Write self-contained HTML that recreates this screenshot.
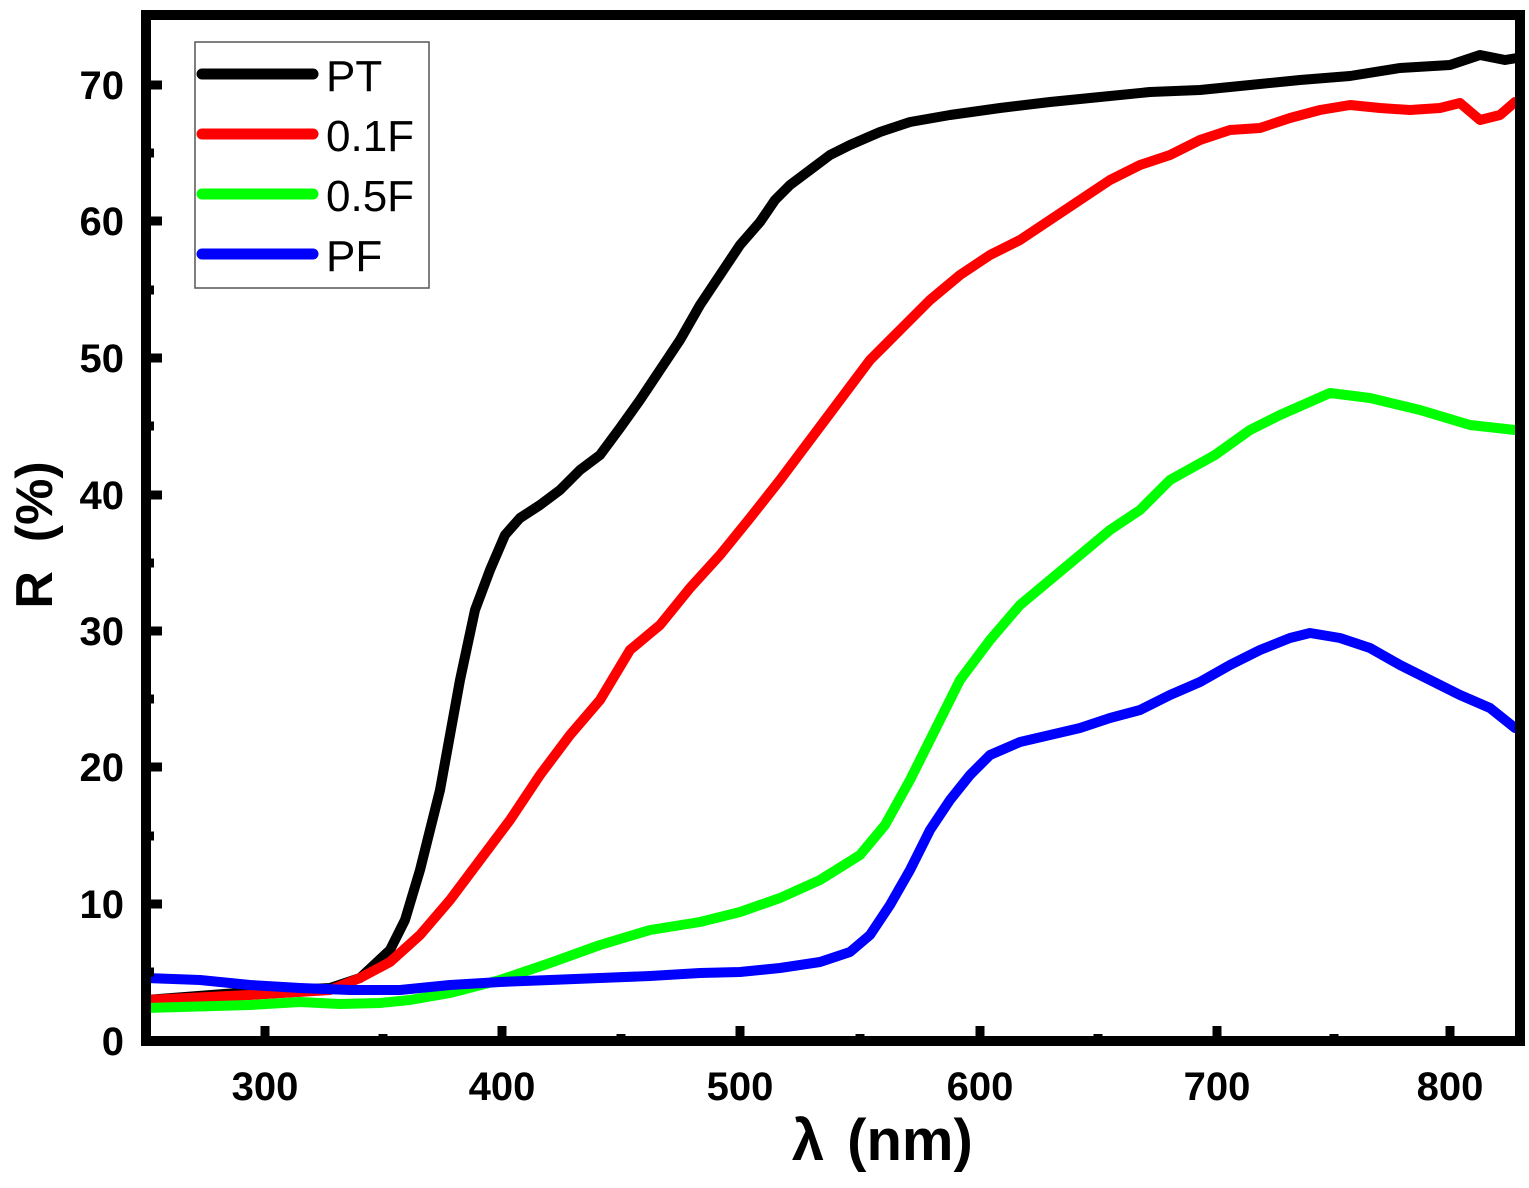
<!DOCTYPE html>
<html><head><style>body{margin:0;background:#fff}</style></head><body>
<svg width="1529" height="1183" viewBox="0 0 1529 1183" xmlns="http://www.w3.org/2000/svg" font-family="Liberation Sans, sans-serif">
<g fill="none" stroke-width="10" stroke-linejoin="round" stroke-linecap="round">
<polyline stroke="#000" points="146,1000 250,992 330,988 360,978 390,950 405,920 420,870 440,790 460,680 475,610 490,570 505,535 520,518 540,505 560,490 580,470 600,455 620,428 640,400 660,370 680,340 700,305 720,275 740,245 760,222 775,200 790,185 810,170 830,155 850,145 880,132 910,122 950,115 1000,108 1050,102 1100,97 1150,92 1200,90 1250,85 1300,80 1350,76 1400,68 1450,65 1480,55 1505,60 1517,58"/>
<polyline stroke="#f00" points="146,1000 250,995 330,990 360,978 390,962 420,935 450,900 480,860 510,820 540,775 570,735 600,700 630,650 660,625 690,588 720,555 750,518 780,480 810,440 840,400 870,360 900,330 930,300 960,275 990,255 1020,240 1050,220 1080,200 1110,180 1140,165 1170,155 1200,140 1230,130 1260,128 1290,118 1320,110 1350,105 1380,108 1410,110 1440,108 1460,103 1480,120 1500,115 1515,102"/>
<polyline stroke="#0f0" points="146,1008 250,1005 300,1002 340,1004 380,1003 410,1000 450,993 500,980 550,963 600,945 650,930 700,922 740,912 780,898 820,880 860,855 885,825 910,780 935,730 960,680 990,640 1020,605 1050,580 1080,555 1110,530 1140,510 1170,480 1215,455 1250,430 1280,415 1330,393 1370,398 1420,410 1470,425 1515,430"/>
<polyline stroke="#00f" points="146,978 200,980 250,985 300,988 350,990 400,990 450,985 500,982 550,980 600,978 650,976 700,973 740,972 780,968 820,962 850,952 870,935 890,905 910,870 930,830 950,800 970,775 990,755 1020,742 1050,735 1080,728 1110,718 1140,710 1170,695 1200,682 1230,665 1260,650 1290,638 1310,633 1340,638 1370,648 1400,665 1430,680 1460,695 1490,708 1515,728"/>
</g>
<rect x="146" y="15" width="1374" height="1026" fill="none" stroke="#000" stroke-width="10"/>
<g stroke="#000" stroke-width="9">
<line x1="265" y1="1041" x2="265" y2="1026"/><line x1="502" y1="1041" x2="502" y2="1026"/><line x1="740" y1="1041" x2="740" y2="1026"/><line x1="980" y1="1041" x2="980" y2="1026"/><line x1="1217" y1="1041" x2="1217" y2="1026"/><line x1="1450" y1="1041" x2="1450" y2="1026"/>
<line x1="383" y1="1041" x2="383" y2="1034"/><line x1="621" y1="1041" x2="621" y2="1034"/><line x1="860" y1="1041" x2="860" y2="1034"/><line x1="1098" y1="1041" x2="1098" y2="1034"/><line x1="1334" y1="1041" x2="1334" y2="1034"/>
<line x1="146" y1="904" x2="162" y2="904"/><line x1="146" y1="767" x2="162" y2="767"/><line x1="146" y1="631" x2="162" y2="631"/><line x1="146" y1="495" x2="162" y2="495"/><line x1="146" y1="358" x2="162" y2="358"/><line x1="146" y1="221" x2="162" y2="221"/><line x1="146" y1="85" x2="162" y2="85"/>
<line x1="146" y1="972" x2="154" y2="972"/><line x1="146" y1="836" x2="154" y2="836"/><line x1="146" y1="699" x2="154" y2="699"/><line x1="146" y1="563" x2="154" y2="563"/><line x1="146" y1="426" x2="154" y2="426"/><line x1="146" y1="290" x2="154" y2="290"/><line x1="146" y1="153" x2="154" y2="153"/>
</g>
<g font-size="40" font-weight="bold" text-anchor="end">
<text x="124" y="1055">0</text><text x="124" y="918">10</text><text x="124" y="781">20</text><text x="124" y="645">30</text><text x="124" y="509">40</text><text x="124" y="372">50</text><text x="124" y="235">60</text><text x="124" y="99">70</text>
</g>
<g font-size="40" font-weight="bold" text-anchor="middle">
<text x="265" y="1100">300</text><text x="502" y="1100">400</text><text x="740" y="1100">500</text><text x="980" y="1100">600</text><text x="1217" y="1100">700</text><text x="1450" y="1100">800</text>
</g>
<text x="808" y="1160" font-size="58" font-weight="bold" text-anchor="middle">λ</text>
<text x="910" y="1160" font-size="58" font-weight="bold" text-anchor="middle">(nm)</text>
<text transform="translate(52,535) rotate(-90)" font-size="52" font-weight="bold" text-anchor="middle" xml:space="preserve">R  (%)</text>
<rect x="195" y="42" width="234" height="246" fill="#fff" stroke="#555" stroke-width="1.5"/>
<g stroke-width="11" stroke-linecap="round">
<line x1="202" y1="74" x2="313" y2="74" stroke="#000"/>
<line x1="202" y1="134" x2="313" y2="134" stroke="#f00"/>
<line x1="202" y1="194" x2="313" y2="194" stroke="#0f0"/>
<line x1="202" y1="254" x2="313" y2="254" stroke="#00f"/>
</g>
<g font-size="44">
<text x="326" y="91">PT</text><text x="326" y="151">0.1F</text><text x="326" y="211">0.5F</text><text x="326" y="271">PF</text>
</g>
</svg>
</body></html>
